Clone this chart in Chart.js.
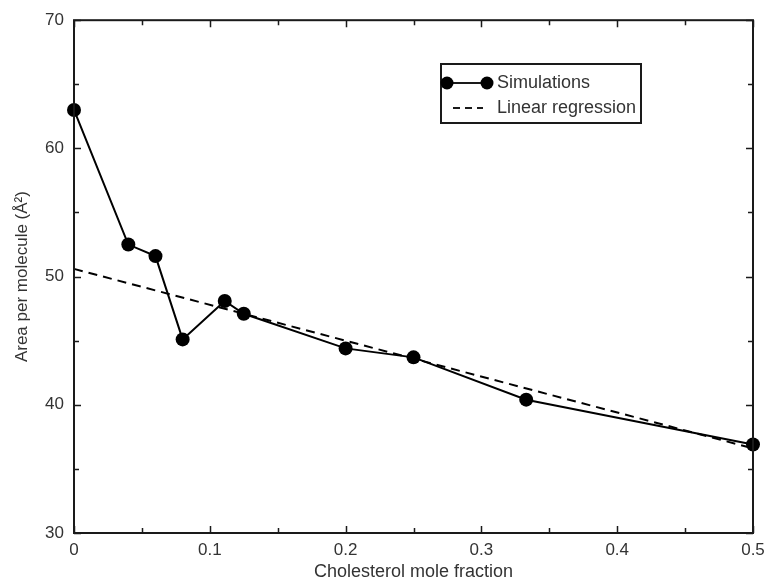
<!DOCTYPE html>
<html>
<head>
<meta charset="utf-8">
<script src="https://cdn.jsdelivr.net/npm/chart.js@4.4.1/dist/chart.umd.min.js"></script>
<style>
  html, body { margin: 0; padding: 0; background: #fff; }
  #wrap { width: 768px; height: 583px; position: relative; }
</style>
</head>
<body>
<div id="wrap"><canvas id="c" width="768" height="583"></canvas></div>
<script>
// ---- Data ----
const molFraction = [0, 0.04, 0.06, 0.08, 0.111, 0.125, 0.2, 0.25, 0.333, 0.5];
const areaPerMolecule = [63.0, 52.5, 51.6, 45.1, 48.1, 47.1, 44.4, 43.7, 40.4, 36.9];
const regressionX = [0, 0.5];
const regressionY = [50.6, 36.6];
const seriesLabels = ['Simulations', 'Linear regression'];
const xTickValues = [0, 0.1, 0.2, 0.3, 0.4, 0.5];
const yTickValues = [30, 40, 50, 60, 70];
const xTitle = 'Cholesterol mole fraction';
const yTitle = 'Area per molecule (Å²)';

const FONT = '"Liberation Sans", Arial, sans-serif';
const TXT = '#333333';

const simPoints = molFraction.map((x, i) => ({ x: x, y: areaPerMolecule[i] }));
const regPoints = regressionX.map((x, i) => ({ x: x, y: regressionY[i] }));

// Frame, inward ticks, and legend
const framePlugin = {
  id: 'frame',
  afterDatasetsDraw(chart) {
    const { ctx, chartArea: a, scales } = chart;
    const xs = scales.x, ys = scales.y;
    ctx.save();
    ctx.strokeStyle = '#1a1a1a';
    ctx.lineWidth = 1.5;
    for (let v = 0; v <= 0.5001; v += 0.05) {
      const px = Math.round(xs.getPixelForValue(v)) + 0.5;
      const major = Math.abs(v * 10 - Math.round(v * 10)) < 1e-6;
      const len = major ? 7 : 5;
      ctx.beginPath();
      ctx.moveTo(px, a.bottom); ctx.lineTo(px, a.bottom - len);
      ctx.moveTo(px, a.top); ctx.lineTo(px, a.top + len);
      ctx.stroke();
    }
    for (let v = 30; v <= 70; v += 5) {
      const py = Math.round(ys.getPixelForValue(v)) + 0.5;
      const len = (v % 10 === 0) ? 7 : 5;
      ctx.beginPath();
      ctx.moveTo(a.left, py); ctx.lineTo(a.left + len, py);
      ctx.moveTo(a.right, py); ctx.lineTo(a.right - len, py);
      ctx.stroke();
    }
    ctx.lineWidth = 2;
    ctx.strokeRect(a.left, a.top, a.right - a.left, a.bottom - a.top);

    // legend
    const lx = 441, ly = 64, lw = 200, lh = 59;
    ctx.fillStyle = '#ffffff';
    ctx.fillRect(lx, ly, lw, lh);
    ctx.lineWidth = 2;
    ctx.strokeStyle = '#1a1a1a';
    ctx.strokeRect(lx, ly, lw, lh);
    const y1 = 83, y2 = 108;
    ctx.lineWidth = 2;
    ctx.beginPath(); ctx.moveTo(447, y1); ctx.lineTo(487, y1); ctx.stroke();
    ctx.fillStyle = '#000';
    [447, 487].forEach(cx => { ctx.beginPath(); ctx.arc(cx, y1, 6.5, 0, Math.PI * 2); ctx.fill(); });
    ctx.setLineDash([7, 5]);
    ctx.beginPath(); ctx.moveTo(453, y2); ctx.lineTo(483, y2); ctx.stroke();
    ctx.setLineDash([]);
    ctx.fillStyle = TXT;
    ctx.font = '18px ' + FONT;
    ctx.textBaseline = 'middle';
    ctx.textAlign = 'left';
    ctx.fillText(chart.data.datasets[0].label, 497, y1);
    ctx.fillText(chart.data.datasets[1].label, 497, y2);
    ctx.restore();
  }
};

new Chart(document.getElementById('c'), {
  type: 'scatter',
  data: {
    datasets: [
      {
        label: seriesLabels[0],
        data: simPoints,
        showLine: true,
        borderColor: '#000',
        backgroundColor: '#000',
        borderWidth: 2,
        pointRadius: 7,
        pointHoverRadius: 7,
        pointBorderWidth: 0,
        tension: 0,
        clip: false,
        order: 1
      },
      {
        label: seriesLabels[1],
        data: regPoints,
        showLine: true,
        borderColor: '#000',
        borderWidth: 2,
        borderDash: [9, 6],
        pointRadius: 0,
        clip: false,
        order: 2
      }
    ]
  },
  options: {
    responsive: false,
    animation: false,
    devicePixelRatio: 1,
    layout: { padding: { left: 0, right: 15, top: 17, bottom: 0 } },
    plugins: { legend: { display: false }, tooltip: { enabled: false } },
    scales: {
      x: {
        type: 'linear',
        min: 0, max: 0.5,
        afterFit(s) { s.height = 50; s.paddingRight = 0; },
        afterBuildTicks(s) { s.ticks = xTickValues.map(v => ({ value: v })); },
        grid: { display: false, drawTicks: false },
        border: { display: false },
        ticks: {
          color: TXT, padding: 7,
          font: { family: FONT, size: 17 },
          callback: v => String(v)
        },
        title: {
          display: true, text: xTitle, color: TXT,
          font: { family: FONT, size: 18 },
          padding: { top: 0, bottom: 0 }
        }
      },
      y: {
        type: 'linear',
        min: 30, max: 70,
        afterFit(s) { s.width = 74; },
        afterBuildTicks(s) { s.ticks = yTickValues.map(v => ({ value: v })); },
        grid: { display: false, drawTicks: false },
        border: { display: false },
        ticks: {
          color: TXT, padding: 10,
          font: { family: FONT, size: 17 },
          callback: v => String(v)
        },
        title: {
          display: true, text: yTitle, color: TXT,
          font: { family: FONT, size: 17 },
          padding: { top: 12, bottom: 0 }
        }
      }
    }
  },
  plugins: [framePlugin]
});
</script>
</body>
</html>
